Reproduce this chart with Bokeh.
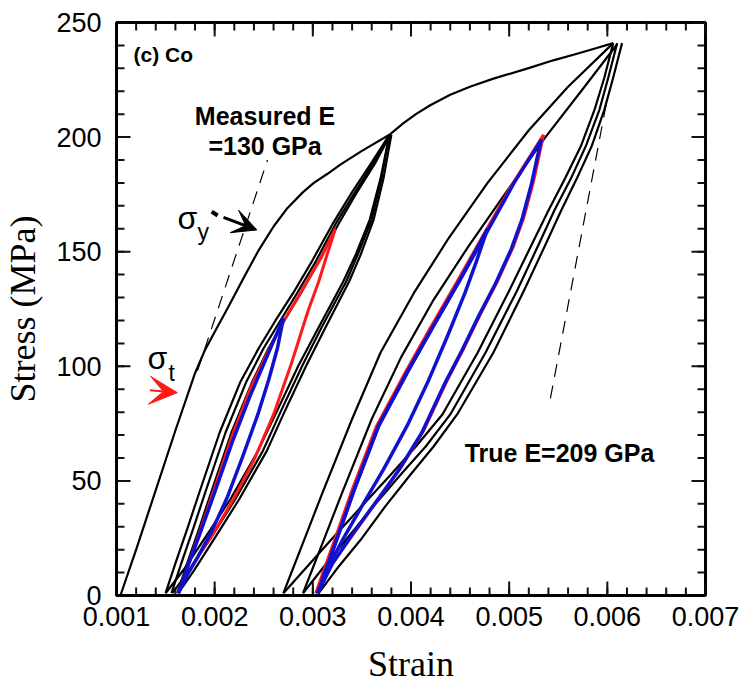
from bokeh.plotting import figure
from bokeh.models import Range1d, FixedTicker, Arrow, VeeHead, ColumnDataSource
from bokeh.core.properties import value
from bokeh.embed import file_html
from bokeh.resources import INLINE
import numpy as np

# ---------------- data ----------------
x_ticks = [0.001, 0.002, 0.003, 0.004, 0.005, 0.006, 0.007]
x_tick_labels = ["0.001", "0.002", "0.003", "0.004", "0.005", "0.006", "0.007"]
y_ticks = [0, 50, 100, 150, 200, 250]
y_tick_labels = ["0", "50", "100", "150", "200", "250"]

# monotonic envelope up to first peak
env1_strain = [0.00104, 0.00120, 0.00140, 0.00160, 0.00180, 0.00190, 0.00200, 0.00214, 0.00230,
               0.00244, 0.00260, 0.00274, 0.00290, 0.00301, 0.00315, 0.00328, 0.00350, 0.00378]
env1_stress = [0, 20, 46, 72, 97, 107, 115, 126, 139, 150, 161, 169, 176, 180, 184, 188, 194, 201]
# envelope from first peak to second peak
env2_strain = [0.00378, 0.00392, 0.00405, 0.00420, 0.00440, 0.00460, 0.00484, 0.00519, 0.00545,
               0.00570, 0.00590, 0.00606]
env2_stress = [201, 206, 210, 214, 218.5, 222, 225.5, 230, 233.5, 236.5, 239, 241]

# first set of loops: unloading branches from 200 MPa
u1_stress = [201, 182, 164, 149, 137, 117, 100, 80, 63, 42, 25, 11, 1]
u1a_strain = [0.00378, 0.00369, 0.00358, 0.00344, 0.00331, 0.00306, 0.00285, 0.00263, 0.00244,
              0.00216, 0.00190, 0.00168, 0.00150]
u1b_strain = [0.00378, 0.00370, 0.00360, 0.00346, 0.00334, 0.00309, 0.00289, 0.00267, 0.00249,
              0.00221, 0.00196, 0.00174, 0.00157]
u1c_strain = [0.00380, 0.00372, 0.00362, 0.00349, 0.00337, 0.00313, 0.00293, 0.00271, 0.00253,
              0.00225, 0.00200, 0.00179, 0.00163]
# first set: reloading branches to 200 MPa
l1_stress = [1, 14, 29, 47, 71, 93, 108, 120, 132, 145, 162, 176, 189, 201]
l1a_strain = [0.00150, 0.00160, 0.00172, 0.00186, 0.00205, 0.00226, 0.00245, 0.00262, 0.00280,
              0.00298, 0.00320, 0.00340, 0.00360, 0.00378]
l1b_strain = [0.00156, 0.00166, 0.00178, 0.00192, 0.00211, 0.00232, 0.00250, 0.00267, 0.00284,
              0.00302, 0.00323, 0.00343, 0.00362, 0.00378]
l1c_strain = [0.00162, 0.00172, 0.00184, 0.00198, 0.00217, 0.00238, 0.00255, 0.00271, 0.00288,
              0.00305, 0.00326, 0.00345, 0.00364, 0.00379]
# red loop to 160 MPa
r1_up_strain = [0.00163, 0.00172, 0.00185, 0.00200, 0.00218, 0.00237, 0.00255, 0.00272, 0.00290,
                0.00308, 0.00323]
r1_up_stress = [1, 12, 28, 47, 70, 91, 107, 121, 134, 147, 160]
r1_dn_strain = [0.00323, 0.00314, 0.00306, 0.00295, 0.00278, 0.00260, 0.00240, 0.00219, 0.00200,
                0.00186, 0.00173, 0.00163]
r1_dn_stress = [160, 148, 137, 124, 101, 79, 59, 42, 28, 19, 10, 1]
# blue loop to 120 MPa
b1_up_strain = [0.00163, 0.00172, 0.00185, 0.00200, 0.00218, 0.00236, 0.00254, 0.00270]
b1_up_stress = [1, 12, 27, 45, 67, 87, 105, 121]
b1_dn_strain = [0.00270, 0.00264, 0.00255, 0.00244, 0.00228, 0.00213, 0.00197, 0.00183, 0.00172,
                0.00163]
b1_dn_stress = [121, 108, 94, 79, 60, 43, 28, 17, 9, 1]

# second set: unloading branches from 240 MPa
u2_stress = [241, 226, 212, 196, 182, 168, 154, 133, 106, 79, 65, 53, 39, 25, 13, 1]
u2a_strain = [0.00606, 0.00597, 0.00587, 0.00573, 0.00557, 0.00540, 0.00524, 0.00500, 0.00468,
              0.00432, 0.00405, 0.00380, 0.00350, 0.00320, 0.00295, 0.00270]
u2b_strain = [0.00610, 0.00601, 0.00592, 0.00578, 0.00563, 0.00546, 0.00531, 0.00508, 0.00476,
              0.00440, 0.00415, 0.00390, 0.00362, 0.00335, 0.00312, 0.00290]
u2c_strain = [0.00615, 0.00606, 0.00597, 0.00584, 0.00569, 0.00553, 0.00538, 0.00515, 0.00484,
              0.00447, 0.00423, 0.00400, 0.00374, 0.00350, 0.00327, 0.00306]
# second set: reloading branches to 240 MPa
l2a_strain = [0.00270, 0.00280, 0.00290, 0.00310, 0.00340, 0.00369, 0.00403, 0.00437, 0.00478,
              0.00520, 0.00560, 0.00606]
l2a_stress = [1, 12, 23, 45, 77, 106, 132, 155, 180, 203, 222, 241]
l2b_strain = [0.00290, 0.00300, 0.00310, 0.00330, 0.00360, 0.00390, 0.00423, 0.00458, 0.00497,
              0.00537, 0.00575, 0.00610]
l2b_stress = [1, 12, 23, 45, 77, 104, 129, 152, 176, 200, 221, 240.5]
# red loop to 200 MPa
r2_up_strain = [0.00303, 0.00312, 0.00322, 0.00340, 0.00365, 0.00395, 0.00420, 0.00447, 0.00472,
                0.00504, 0.00535]
r2_up_stress = [1, 12, 24, 46, 74, 98, 117, 137, 156, 180, 201]
r2_dn_strain = [0.00535, 0.00530, 0.00525, 0.00515, 0.00504, 0.00488, 0.00471, 0.00454, 0.00437,
                0.00413, 0.00390, 0.00370, 0.00340, 0.00320, 0.00303]
r2_dn_stress = [201, 191, 181, 165, 152, 137, 123, 108, 94, 72, 56, 44, 26, 14, 1]
# blue loop to 200 MPa
b2o_up_strain = [0.00305, 0.00314, 0.00324, 0.00342, 0.00367, 0.00397, 0.00422, 0.00449, 0.00474,
                 0.00505, 0.00533]
b2o_up_stress = [1, 12, 24, 46, 74, 98, 117, 137, 156, 180, 199]
b2o_dn_strain = [0.00533, 0.00528, 0.00523, 0.00513, 0.00502, 0.00486, 0.00469, 0.00452, 0.00435,
                 0.00411, 0.00388, 0.00368, 0.00339, 0.00320, 0.00305]
b2o_dn_stress = [199, 190, 180, 164, 151, 136, 122, 107, 93, 71, 55, 43, 26, 14, 1]
# blue loop to 160 MPa
b2i_up_strain = [0.00305, 0.00314, 0.00324, 0.00342, 0.00367, 0.00397, 0.00422, 0.00449, 0.00478]
b2i_up_stress = [1, 12, 24, 46, 74, 98, 117, 137, 160]
b2i_dn_strain = [0.00478, 0.00466, 0.00455, 0.00437, 0.00417, 0.00396, 0.00372, 0.00350, 0.00330,
                 0.00315, 0.00305]
b2i_dn_stress = [160, 145, 132, 113, 93, 74, 55, 39, 24, 12, 1]

# modulus guide lines
meas_e_strain = [0.001825, 0.002538]
meas_e_stress = [98, 190]
true_e_strain = [0.00542, 0.00600]
true_e_stress = [86, 217]

# ---------------- figure ----------------
X0, X1, Y0, Y1 = 0.001, 0.007, 0.0, 250.0
p = figure(width=745, height=694, output_backend="svg", toolbar_location=None,
           x_range=Range1d(X0, X1), y_range=Range1d(Y0, Y1),
           min_border_left=116, min_border_right=40, min_border_top=22, min_border_bottom=99,
           background_fill_color="white", border_fill_color="white")
p.grid.visible = False
p.outline_line_color = "black"
p.outline_line_width = 3

x_minor = [float(round(v, 5)) for v in np.arange(0.001, 0.00701, 0.0002)]
y_minor = [float(v) for v in range(0, 251, 10)]

xb = p.below[0]
yl = p.left[0]
xb.ticker = FixedTicker(ticks=x_ticks, minor_ticks=[])
yl.ticker = FixedTicker(ticks=y_ticks, minor_ticks=[])
xb.major_label_overrides = dict(zip(x_ticks, x_tick_labels))
yl.major_label_overrides = dict(zip(y_ticks, y_tick_labels))

for ax in [xb, yl]:
    ax.axis_line_width = 3
    ax.axis_line_color = "black"
    ax.major_tick_in = 0
    ax.major_tick_out = 0
    ax.minor_tick_in = 0
    ax.minor_tick_out = 0
    ax.major_tick_line_color = None
    ax.minor_tick_line_color = None
    ax.major_label_text_font = "Liberation Sans"
    ax.major_label_text_font_size = "27px"
    ax.major_label_text_color = "black"
    ax.axis_label_text_font = "Liberation Serif"
    ax.axis_label_text_font_size = "36px"
    ax.axis_label_text_font_style = "normal"
    ax.axis_label_text_color = "black"

xb.major_label_standoff = 11
yl.major_label_standoff = 15
xb.axis_label = "Strain"
yl.axis_label = "Stress (MPa)"
xb.axis_label_standoff = 15
yl.axis_label_standoff = 10

# inward tick marks on all four sides, drawn as thin filled rectangles (screen-sized)
px_x = (X1 - X0) / 589.0
px_y = (Y1 - Y0) / 573.0
tx, ty, tw, th = [], [], [], []
for t in x_minor:
    tx += [t, t]; ty += [Y0 + 4 * px_y, Y1 - 4 * px_y]; tw += [2, 2]; th += [8, 8]
for t in x_ticks:
    tx += [t, t]; ty += [Y0 + 7 * px_y, Y1 - 7 * px_y]; tw += [2, 2]; th += [14, 14]
for t in y_minor:
    tx += [X0 + 4 * px_x, X1 - 4 * px_x]; ty += [t, t]; tw += [8, 8]; th += [2, 2]
for t in y_ticks:
    tx += [X0 + 7 * px_x, X1 - 7 * px_x]; ty += [t, t]; tw += [14, 14]; th += [2, 2]
tick_src = ColumnDataSource(dict(x=tx, y=ty, w=tw, h=th))
p.rect(x="x", y="y", width="w", height="h", width_units="screen", height_units="screen",
       source=tick_src, fill_color="#111111", line_color=None)

# black curves
black_curves = [
    (env1_strain, env1_stress), (env2_strain, env2_stress),
    (u1a_strain, u1_stress), (u1b_strain, u1_stress), (u1c_strain, u1_stress),
    (l1a_strain, l1_stress), (l1b_strain, l1_stress), (l1c_strain, l1_stress),
    (u2a_strain, u2_stress), (u2b_strain, u2_stress), (u2c_strain, u2_stress),
    (l2a_strain, l2a_stress), (l2b_strain, l2b_stress),
]
for xs, ys in black_curves:
    p.line(xs, ys, line_color="black", line_width=2.2, line_join="round")

red_curves = [(r1_up_strain, r1_up_stress), (r1_dn_strain, r1_dn_stress),
              (r2_up_strain, r2_up_stress), (r2_dn_strain, r2_dn_stress)]
for xs, ys in red_curves:
    p.line(xs, ys, line_color="#ff1a1a", line_width=3, line_join="round")

blue_curves = [(b1_up_strain, b1_up_stress), (b1_dn_strain, b1_dn_stress),
               (b2o_up_strain, b2o_up_stress), (b2o_dn_strain, b2o_dn_stress),
               (b2i_up_strain, b2i_up_stress), (b2i_dn_strain, b2i_dn_stress)]
for xs, ys in blue_curves:
    p.line(xs, ys, line_color="#1010d0", line_width=3.5, line_join="round")

# dashed modulus lines
p.line(meas_e_strain, meas_e_stress, line_color="black", line_width=1.2, line_dash="13 9")
p.line(true_e_strain, true_e_stress, line_color="black", line_width=1.2, line_dash="13 9")

# annotations
bold = dict(text_font=value("Liberation Sans"), text_font_style="bold", text_color="black")
p.text(x=[0.001173], y=[236], text=["(c) Co"], text_font_size=value("21px"),
       text_align="left", text_baseline="middle", **bold)
p.text(x=[0.002513, 0.002513], y=[209.4, 196.3], text=["Measured E", "=130 GPa"],
       text_font_size=value("25px"), text_align="center", text_baseline="middle", **bold)
p.text(x=[0.005513], y=[62], text=["True E=209 GPa"], text_font_size=value("25px"),
       text_align="center", text_baseline="middle", **bold)

sig = dict(text_font=value("Liberation Sans"), text_color="black", text_align="left",
           text_baseline="alphabetic")
p.text(x=[0.001621], y=[164.5], text=["σ"], text_font_size=value("32px"), **sig)
p.text(x=[0.001825], y=[158.4], text=["y"], text_font_size=value("23px"), **sig)
p.text(x=[0.001316], y=[103.8], text=["σ"], text_font_size=value("32px"), **sig)
p.text(x=[0.00153], y=[96.9], text=["t"], text_font_size=value("23px"), **sig)

# sigma_y arrow (short dash + arrow)
p.line([0.00197, 0.00203], [167.5, 165.8], line_color="black", line_width=4)
p.add_layout(Arrow(end=VeeHead(size=24, fill_color="black", line_color="black"),
                   x_start=0.00209, y_start=165.0, x_end=0.00243, y_end=159.5,
                   line_color="black", line_width=3))
# sigma_t arrow head (red)
p.add_layout(Arrow(end=VeeHead(size=28, fill_color="#ff1a1a", line_color="#ff1a1a"),
                   x_start=0.00134, y_start=89.5, x_end=0.00162, y_end=88.5,
                   line_color="#ff1a1a", line_width=2))

open("out.html", "w").write(file_html(p, INLINE))
